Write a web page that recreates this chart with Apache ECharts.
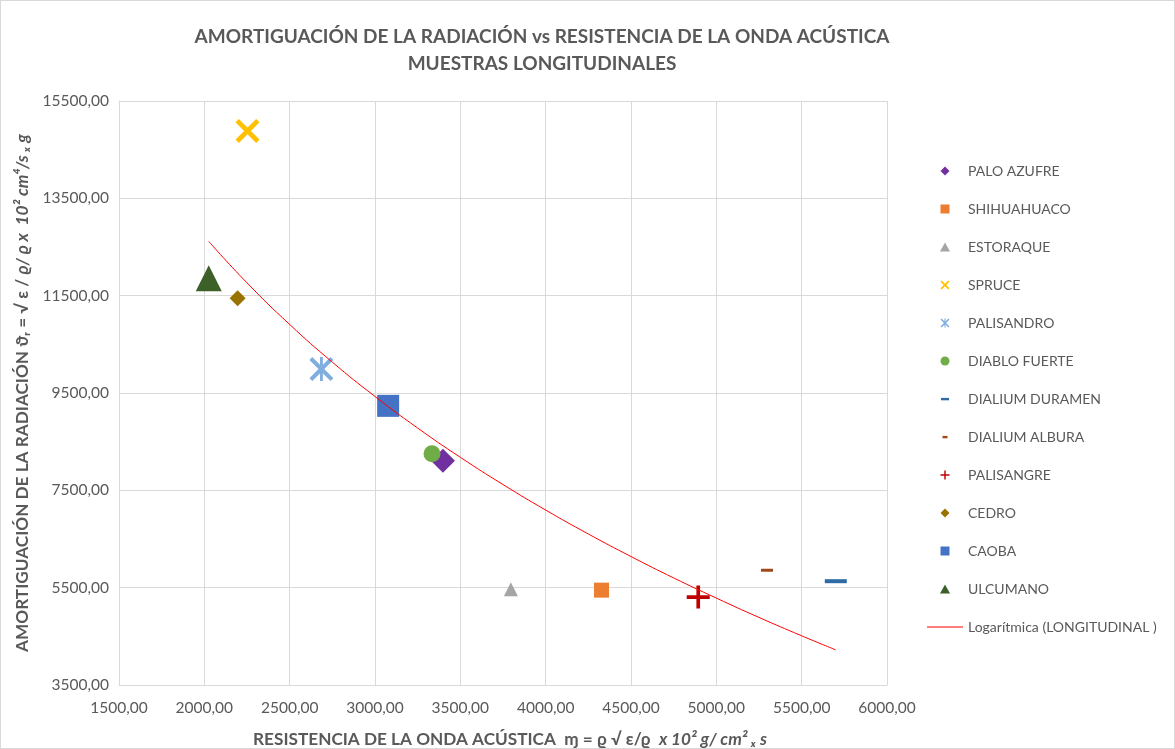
<!DOCTYPE html>
<html>
<head>
<meta charset="utf-8">
<script src="https://cdn.jsdelivr.net/npm/echarts@6/dist/echarts.min.js"></script>
<style>
  html, body { margin: 0; padding: 0; background: #fff; }
  #chart { width: 1175px; height: 749px; box-sizing: border-box; border: 1px solid #d9d9d9; }
</style>
</head>
<body>
<div id="chart"></div>
<script>
// especies (orden de la leyenda)
const species = ['PALO AZUFRE', 'SHIHUAHUACO', 'ESTORAQUE', 'SPRUCE', 'PALISANDRO', 'DIABLO FUERTE',
  'DIALIUM DURAMEN', 'DIALIUM ALBURA', 'PALISANGRE', 'CEDRO', 'CAOBA', 'ULCUMANO'];
// resistencia de la onda acústica (x)
const resistencia = [3398, 4327, 3796, 2253, 2686, 3334, 5700, 5297, 4894, 2195, 3077, 2026];
// amortiguación de la radiación (y)
const amortiguacion = [8110, 5449, 5469, 14886, 9993, 8253, 5633, 5858, 5306, 11447, 9236, 11856];

// curva de tendencia logarítmica
const trendX = [2026, 2250, 2500, 2750, 3000, 3250, 3500, 3750, 4000, 4250, 4500, 4750, 5000, 5250, 5500, 5700];
const trendY = [12614, 11764, 10909, 10134, 9429, 8780, 8179, 7619, 7095, 6603, 6140, 5700, 5286, 4888, 4511, 4221];
const trendName = 'Logarítmica (LONGITUDINAL )';

const xTicks = [1500, 2000, 2500, 3000, 3500, 4000, 4500, 5000, 5500, 6000];
const yTicks = [3500, 5500, 7500, 9500, 11500, 13500, 15500];

// marcadores como paths para que la leyenda conserve la proporción
const DIAMOND = 'path://M5,0 L10,5 L5,10 L0,5 Z';
const SQUARE = 'path://M0,0 H10 V10 H0 Z';
const TRIANGLE = 'path://M5,0 L10,9 L0,9 Z';
const CIRCLE = 'circle';
const X_PATH = 'path://M0,1.4 L1.4,0 L5,3.6 L8.6,0 L10,1.4 L6.4,5 L10,8.6 L8.6,10 L5,6.4 L1.4,10 L0,8.6 L3.6,5 Z';
const AST_PATH = 'path://M0,1.2 L1.2,0 L5,3.8 L8.8,0 L10,1.2 L6.2,5 L10,8.8 L8.8,10 L5,6.2 L1.2,10 L0,8.8 L3.8,5 Z M4.4,0 L5.6,0 L5.6,10 L4.4,10 Z';
const PLUS_PATH = 'path://M4.2,0 H5.8 V4.2 H10 V5.8 H5.8 V10 H4.2 V5.8 H0 V4.2 H4.2 Z';
const DASH_PATH = 'path://M0,0 H10 V2.6 H0 Z';
// iconos de leyenda en una caja de 36x9
const DASH_ICON_L = 'path://M0,0 L0,0 M36,9 L36,9 M14,3.4 H22 V5.8 H14 Z';
const DASH_ICON_S = 'path://M0,0 L0,0 M36,9 L36,9 M15.5,3.4 H20.5 V5.8 H15.5 Z';
const LINE_ICON = 'path://M0,0 H36 V1.2 H0 Z';

const styles = {
  'PALO AZUFRE':     { color: '#7030A0', symbol: DIAMOND, size: 24 },
  'SHIHUAHUACO':     { color: '#ED7D31', symbol: SQUARE, size: 15 },
  'ESTORAQUE':       { color: '#A5A5A5', symbol: TRIANGLE, size: 14 },
  'SPRUCE':          { color: '#FFC000', symbol: X_PATH, size: 24 },
  'PALISANDRO':      { color: '#7FAEDF', symbol: AST_PATH, size: 24 },
  'DIABLO FUERTE':   { color: '#70AD47', symbol: CIRCLE, size: 17 },
  'DIALIUM DURAMEN': { color: '#2E6BA4', symbol: DASH_PATH, size: [22, 4], icon: DASH_ICON_L },
  'DIALIUM ALBURA':  { color: '#A0481A', symbol: DASH_PATH, size: [12, 3], icon: DASH_ICON_S },
  'PALISANGRE':      { color: '#C00000', symbol: PLUS_PATH, size: 23 },
  'CEDRO':           { color: '#997300', symbol: DIAMOND, size: 16 },
  'CAOBA':           { color: '#4472C4', symbol: SQUARE, size: 22 },
  'ULCUMANO':        { color: '#3D5F28', symbol: TRIANGLE, size: 26 }
};

const fmt = v => v.toFixed(2).replace('.', ',');
const gray = '#595959';
const font = 'Lato, "Open Sans", sans-serif';

const chart = echarts.init(document.getElementById('chart'));

const series = species.map((name, i) => ({
  name: name,
  type: 'scatter',
  symbol: styles[name].symbol,
  symbolSize: styles[name].size,
  itemStyle: { color: styles[name].color, opacity: 1 },
  data: [[resistencia[i], amortiguacion[i]]],
  z: 3
}));
series.push({
  name: trendName,
  type: 'line',
  data: trendX.map((x, i) => [x, trendY[i]]),
  smooth: true,
  showSymbol: false,
  symbol: 'none',
  lineStyle: { color: '#FF0000', width: 1 },
  itemStyle: { color: '#FF0000' },
  z: 4
});

const legendData = species.map(name => styles[name].icon ? { name: name, icon: styles[name].icon } : name);
legendData.push({ name: trendName, icon: LINE_ICON });

const nameRich = {
  b: { fontFamily: font, fontSize: 17.2, fontWeight: 'bold', color: gray },
  i: { fontFamily: font, fontSize: 17.2, fontWeight: 'bold', fontStyle: 'italic', color: gray }
};

const option = {
  animation: false,
  textStyle: { fontFamily: font },
  title: {
    text: 'AMORTIGUACIÓN DE LA RADIACIÓN vs RESISTENCIA DE LA ONDA ACÚSTICA\nMUESTRAS LONGITUDINALES',
    left: 536,
    top: 17,
    textAlign: 'center',
    textStyle: { fontFamily: font, fontSize: 19, fontWeight: 'bold', color: gray, lineHeight: 27 }
  },
  legend: {
    orient: 'vertical',
    left: 921,
    top: 158,
    itemWidth: 36,
    itemHeight: 9,
    itemGap: 24,
    textStyle: { fontFamily: font, fontSize: 14, color: gray, lineHeight: 14 },
    data: legendData
  },
  grid: { left: 118, right: 287, top: 100, bottom: 63, containLabel: false, outerBoundsMode: 'none' },
  xAxis: {
    type: 'value',
    min: xTicks[0],
    max: xTicks[xTicks.length - 1],
    interval: 500,
    name: '{b|RESISTENCIA DE LA ONDA ACÚSTICA  ɱ = ϱ √ ε/ϱ  }{i|x 10² g/ cm² ₓ s}',
    nameLocation: 'middle',
    nameGap: 46,
    nameTextStyle: { rich: nameRich, padding: [0, 0, 0, 14] },
    axisLine: { lineStyle: { color: '#D9D9D9' } },
    axisTick: { show: false },
    axisLabel: { formatter: fmt, color: gray, fontSize: 15.5, margin: 15 },
    splitLine: { lineStyle: { color: '#D9D9D9' } }
  },
  yAxis: {
    type: 'value',
    min: yTicks[0],
    max: yTicks[yTicks.length - 1],
    interval: 2000,
    name: '{b|AMORTIGUACIÓN DE LA RADIACIÓN ϑᵣ = √ ε / }{i|ϱ/ ϱ x  10² cm⁴/s ₓ g}',
    nameLocation: 'middle',
    nameGap: 88,
    nameRotate: 90,
    nameTextStyle: { rich: nameRich },
    axisLine: { show: true, lineStyle: { color: '#D9D9D9' } },
    axisTick: { show: false },
    axisLabel: { formatter: fmt, color: gray, fontSize: 15.5, margin: 10 },
    splitLine: { lineStyle: { color: '#D9D9D9' } }
  },
  series: series
};

chart.setOption(option);
</script>
</body>
</html>
